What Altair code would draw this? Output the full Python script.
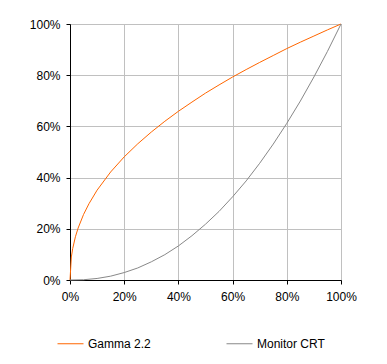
import altair as alt
import pandas as pd

# Gamma 2.2 curve
gamma_x = [0, 0.005, 0.01, 0.02, 0.03, 0.05, 0.07, 0.1, 0.15, 0.2, 0.25, 0.3, 0.35,
           0.4, 0.45, 0.5, 0.55, 0.6, 0.65, 0.7, 0.75, 0.8, 0.85, 0.9, 0.95, 1.0]
gamma_y = [0, 0.09, 0.123, 0.169, 0.203, 0.256, 0.298, 0.351, 0.422, 0.481, 0.532,
           0.578, 0.620, 0.659, 0.695, 0.730, 0.762, 0.793, 0.822, 0.850, 0.877,
           0.904, 0.929, 0.953, 0.977, 1.0]

# Monitor CRT curve
crt_x = [0, 0.05, 0.1, 0.15, 0.2, 0.25, 0.3, 0.35, 0.4, 0.45, 0.5, 0.55, 0.6, 0.65,
         0.7, 0.75, 0.8, 0.85, 0.9, 0.95, 1.0]
crt_y = [0, 0.001, 0.006, 0.015, 0.029, 0.047, 0.071, 0.099, 0.133, 0.173, 0.218,
         0.268, 0.325, 0.387, 0.456, 0.531, 0.612, 0.699, 0.793, 0.893, 1.0]

series = ["Gamma 2.2", "Monitor CRT"]
colors = ["#FF6600", "#888888"]
ticks = [0, 0.2, 0.4, 0.6, 0.8, 1.0]

df = pd.concat([
    pd.DataFrame({"x": gamma_x, "y": gamma_y, "s": series[0], "o": range(len(gamma_x))}),
    pd.DataFrame({"x": crt_x, "y": crt_y, "s": series[1], "o": range(len(crt_x))}),
])

FONT = "Liberation Sans"

chart = alt.Chart(df).mark_line(strokeWidth=1).encode(
    x=alt.X("x:Q", scale=alt.Scale(domain=[0, 1], nice=False),
            axis=alt.Axis(values=ticks, format=".0%", title=None, tickSize=4,
                          labelPadding=7, domainColor="black", tickColor="black",
                          gridColor="#c0c0c0", labelFont=FONT, labelFontSize=12,
                          labelColor="black", labelFlush=False)),
    y=alt.Y("y:Q", scale=alt.Scale(domain=[0, 1], nice=False),
            axis=alt.Axis(values=ticks, format=".0%", title=None, tickSize=4,
                          labelPadding=6, domainColor="black", tickColor="black",
                          gridColor="#c0c0c0", labelFont=FONT, labelFontSize=12,
                          labelColor="black", labelFlush=False)),
    color=alt.Color("s:N", scale=alt.Scale(domain=series, range=colors),
                    legend=alt.Legend(title=None, orient="none", direction="horizontal",
                                      legendX=-13, legendY=306, symbolType="stroke",
                                      symbolSize=676, symbolStrokeWidth=1,
                                      labelOffset=4, columnPadding=73,
                                      labelFont=FONT, labelFontSize=12,
                                      labelColor="black")),
    order="o:Q",
).properties(
    width=271, height=256,
    autosize=alt.AutoSizeParams(type="none"),
    padding={"left": 62, "top": 16, "right": 30, "bottom": 84},
).configure_view(stroke="#808080", strokeWidth=1)

chart.save("out.html", embed_options={"renderer": "svg", "actions": False})
